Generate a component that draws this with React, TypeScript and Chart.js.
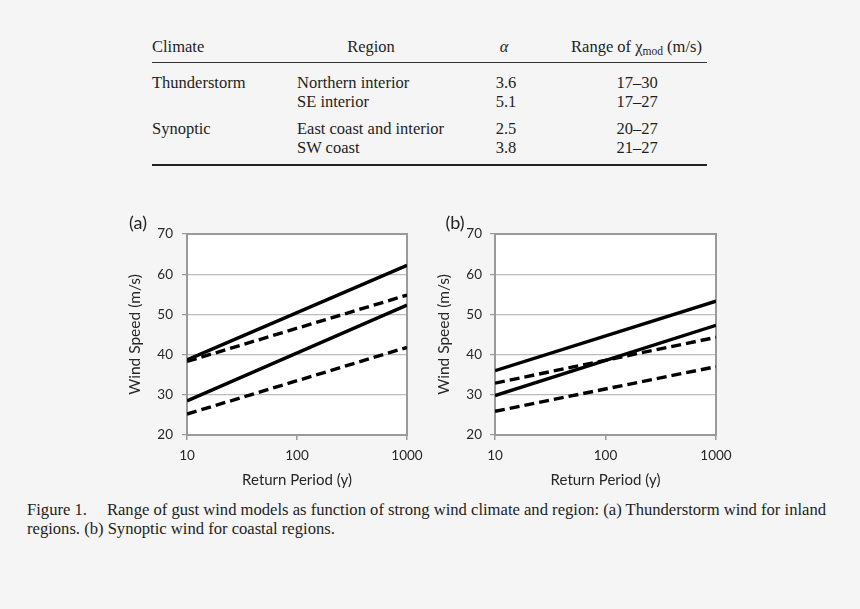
import React, { useEffect, useRef } from "react";
import { Chart, registerables } from "chart.js";

Chart.register(...registerables);

// ---------- data ----------
const returnPeriods = [10, 1000];
const xTickValues = [10, 100, 1000];
const yMin = 20;
const yMax = 70;
const yStep = 10;

// (a) Thunderstorm wind, inland regions
const thunderSolidUpper = [38.7, 62.2];
const thunderDashedUpper = [38.3, 54.8];
const thunderSolidLower = [28.5, 52.3];
const thunderDashedLower = [25.2, 41.8];

// (b) Synoptic wind, coastal regions
const synopticSolidUpper = [36.0, 53.3];
const synopticSolidLower = [29.8, 47.3];
const synopticDashedUpper = [32.9, 44.3];
const synopticDashedLower = [25.9, 37.0];

// table
const tableClimates = ["Thunderstorm", "", "Synoptic", ""];
const tableRegions = ["Northern interior", "SE interior", "East coast and interior", "SW coast"];
const tableAlphas = ["3.6", "5.1", "2.5", "3.8"];
const tableRanges = ["17–30", "17–27", "20–27", "21–27"];

const captionLine1Label = "Figure 1.";
const captionLine1Text =
  "Range of gust wind models as function of strong wind climate and region: (a) Thunderstorm wind for inland";
const captionLine2Text = "regions. (b) Synoptic wind for coastal regions.";

// ---------- styles ----------
const serif = '"Liberation Serif", "Times New Roman", serif';
const sans = 'Lato, "Open Sans", sans-serif';
const textColor = "#262626";
const gridColor = "#bdbdbd";
const frameColor = "#9a9a9a";

const framePlugin = {
  id: "frame",
  beforeDraw(chart: any) {
    const { ctx, chartArea: a } = chart;
    ctx.save();
    ctx.fillStyle = "#ffffff";
    ctx.fillRect(a.left, a.top, a.right - a.left, a.bottom - a.top);
    ctx.restore();
  },
  beforeDatasetsDraw(chart: any) {
    const { ctx, chartArea: a } = chart;
    ctx.save();
    ctx.strokeStyle = frameColor;
    ctx.lineWidth = 2;
    ctx.strokeRect(a.left, a.top, a.right - a.left, a.bottom - a.top);
    ctx.restore();
  },
};

type Series = { values: number[]; dashed: boolean };

const CANVAS_W = 330;
const CANVAS_H = 295;

function makeConfig(series: Series[], yAxisWidth: number, rightPad: number, tickPad: number, titlePad: number) {
  return {
    type: "line" as const,
    data: {
      datasets: series.map((s, i) => ({
        label: "s" + i,
        data: returnPeriods.map((x, j) => ({ x, y: s.values[j] })),
        borderColor: "#000000",
        borderWidth: 3.4,
        borderDash: s.dashed ? [10, 5] : [],
        pointRadius: 0,
        fill: false,
        tension: 0,
      })),
    },
    options: {
      responsive: true,
      maintainAspectRatio: false,
      animation: false,
      layout: { padding: { left: 0, top: 34, right: rightPad, bottom: 0 } },
      plugins: { legend: { display: false }, tooltip: { enabled: false }, title: { display: false } },
      scales: {
        x: {
          type: "logarithmic",
          min: 10,
          max: 1000,
          afterBuildTicks: (s: any) => {
            s.ticks = xTickValues.map((v) => ({ value: v }));
          },
          afterFit: (s: any) => {
            s.height = 60;
            s.paddingLeft = 0;
            s.paddingRight = 0;
          },
          ticks: {
            autoSkip: false,
            maxRotation: 0,
            padding: 8,
            color: textColor,
            font: { family: sans, size: 13.5 },
            callback: (v: any) => String(v),
          },
          grid: { drawOnChartArea: false, drawTicks: true, tickLength: 5, color: frameColor, lineWidth: 1.5 },
          border: { display: false },
          title: {
            display: true,
            text: "Return Period (y)",
            color: textColor,
            font: { family: sans, size: 15 },
            padding: { top: 0, bottom: 6 },
          },
        },
        y: {
          type: "linear",
          min: yMin,
          max: yMax,
          afterFit: (s: any) => {
            s.width = yAxisWidth;
            s.paddingTop = 0;
            s.paddingBottom = 0;
          },
          ticks: {
            stepSize: yStep,
            padding: tickPad,
            color: textColor,
            font: { family: sans, size: 13.5 },
          },
          grid: { color: gridColor, lineWidth: 1.2, tickLength: 5, tickColor: frameColor },
          border: { display: false },
          title: {
            display: true,
            text: "Wind Speed (m/s)",
            color: textColor,
            font: { family: sans, size: 15.5 },
            padding: { top: titlePad, bottom: 0 },
          },
        },
      },
    },
    plugins: [framePlugin],
  };
}

function LineChart(props: { series: Series[]; left: number; top: number; yAxisWidth: number; rightPad: number; tickPad: number; titlePad: number }) {
  const ref = useRef<HTMLCanvasElement | null>(null);
  useEffect(() => {
    if (!ref.current) return;
    const chart = new Chart(
      ref.current,
      makeConfig(props.series, props.yAxisWidth, props.rightPad, props.tickPad, props.titlePad) as any
    );
    return () => chart.destroy();
  }, []);
  return (
    <div style={{ position: "absolute", left: props.left, top: props.top, width: CANVAS_W, height: CANVAS_H }}>
      <canvas ref={ref} />
    </div>
  );
}

function Txt(props: { x: number; y: number; align?: "left" | "center" | "right"; size?: number; family?: string; children: any; style?: any }) {
  const size = props.size ?? 16.5;
  const align = props.align ?? "left";
  const tx = align === "center" ? "-50%" : align === "right" ? "-100%" : "0";
  const lh = size * 1.2;
  return (
    <div
      style={{
        position: "absolute",
        left: props.x,
        top: props.y - lh / 2,
        height: lh,
        lineHeight: `${lh}px`,
        fontSize: size,
        fontFamily: props.family ?? serif,
        whiteSpace: "nowrap",
        transform: `translateX(${tx})`,
        color: "#1e1e1e",
        ...(props.style || {}),
      }}
    >
      {props.children}
    </div>
  );
}

const rowY = [83.3, 101.7, 129.3, 148.3];

export default function App() {
  useEffect(() => {
    document.body.style.margin = "0";
    document.body.style.background = "#f5f5f5";
  }, []);

  const seriesA: Series[] = [
    { values: thunderSolidUpper, dashed: false },
    { values: thunderDashedUpper, dashed: true },
    { values: thunderSolidLower, dashed: false },
    { values: thunderDashedLower, dashed: true },
  ];
  const seriesB: Series[] = [
    { values: synopticSolidUpper, dashed: false },
    { values: synopticSolidLower, dashed: false },
    { values: synopticDashedUpper, dashed: true },
    { values: synopticDashedLower, dashed: true },
  ];

  return (
    <div style={{ position: "absolute", left: 0, top: 0, width: 860, height: 609, background: "#f5f5f5", overflow: "hidden" }}>
      {/* table header */}
      <Txt x={152} y={46.7}>Climate</Txt>
      <Txt x={371} y={46.7} align="center">Region</Txt>
      <Txt x={504} y={46.7} align="center" style={{ fontStyle: "italic" }}>α</Txt>
      <Txt x={636.5} y={46.7} align="center">
        Range of χ<span style={{ fontSize: 11.5, position: "relative", top: 3 }}>mod</span> (m/s)
      </Txt>
      <div style={{ position: "absolute", left: 152, top: 61.6, width: 555, height: 1.3, background: "#333" }} />
      {rowY.map((y, i) => (
        <React.Fragment key={i}>
          {tableClimates[i] ? <Txt x={152} y={y}>{tableClimates[i]}</Txt> : null}
          <Txt x={297} y={y}>{tableRegions[i]}</Txt>
          <Txt x={506} y={y} align="center">{tableAlphas[i]}</Txt>
          <Txt x={637} y={y} align="center">{tableRanges[i]}</Txt>
        </React.Fragment>
      ))}
      <div style={{ position: "absolute", left: 152, top: 163.7, width: 555, height: 2.6, background: "#222" }} />

      {/* charts: plot areas at x 187–407 and 495–716, y 234–435 */}
      <LineChart series={seriesA} left={120} top={200} yAxisWidth={67} rightPad={CANVAS_W - 287} tickPad={9} titlePad={6} />
      <LineChart series={seriesB} left={430} top={200} yAxisWidth={65} rightPad={CANVAS_W - 286} tickPad={8} titlePad={4.5} />
      <Txt x={138} y={223} align="center" size={18} family={sans} style={{ color: "#222" }}>(a)</Txt>
      <Txt x={455} y={222.5} align="center" size={18} family={sans} style={{ color: "#222" }}>(b)</Txt>

      {/* caption */}
      <Txt x={27} y={510} size={16.6}>
        {captionLine1Label}
        <span style={{ display: "inline-block", width: 20 }} />
        {captionLine1Text}
      </Txt>
      <Txt x={27} y={529} size={16.6}>{captionLine2Text}</Txt>
    </div>
  );
}
